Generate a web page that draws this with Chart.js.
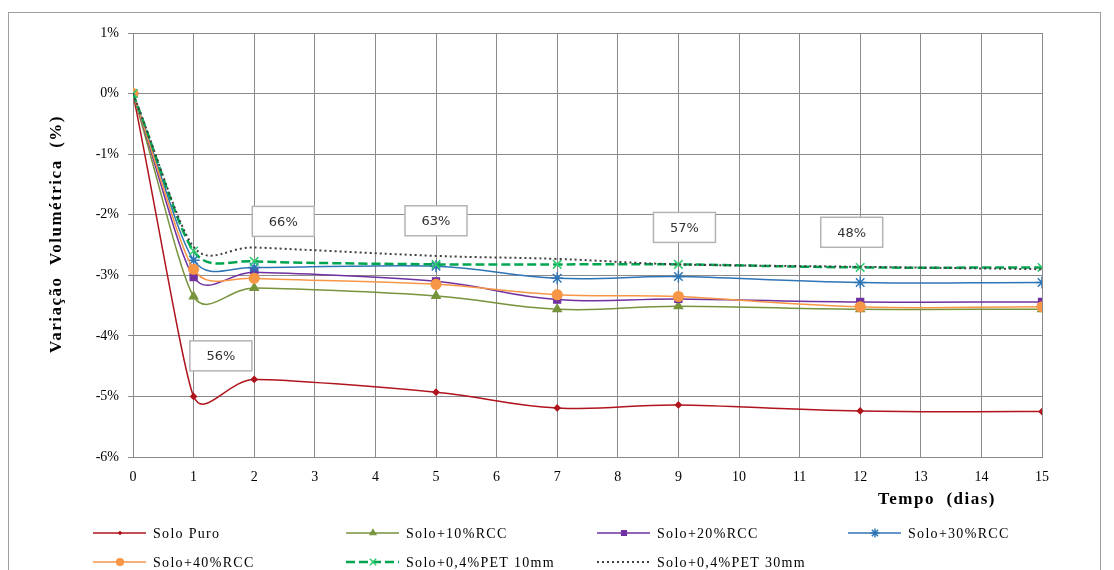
<!DOCTYPE html>
<html>
<head>
<meta charset="utf-8">
<script src="https://cdn.jsdelivr.net/npm/chart.js@4/dist/chart.umd.min.js"></script>
<style>
  html, body { margin: 0; padding: 0; background: #fff; }
  #wrap { width: 1114px; height: 570px; position: relative; }
</style>
</head>
<body>
<div id="wrap"><canvas id="chart" width="1114" height="570"></canvas></div>
<script>
// data (days vs. volumetric variation in %)
const days = [0, 1, 2, 5, 7, 9, 12, 15];
const soloPuro = [0, -5.00, -4.72, -4.93, -5.19, -5.14, -5.24, -5.25];
const rcc10 = [0, -3.35, -3.21, -3.34, -3.56, -3.51, -3.56, -3.56];
const rcc20 = [0, -3.03, -2.95, -3.10, -3.40, -3.39, -3.44, -3.44];
const rcc30 = [0, -2.75, -2.87, -2.85, -3.05, -3.02, -3.12, -3.12];
const rcc40 = [0, -2.90, -3.05, -3.15, -3.32, -3.35, -3.52, -3.52];
const pet10 = [0, -2.60, -2.77, -2.82, -2.82, -2.82, -2.87, -2.87];
const pet30 = [0, -2.53, -2.54, -2.68, -2.73, -2.82, -2.86, -2.90];

const seriesNames = ['Solo Puro', 'Solo+10%RCC', 'Solo+20%RCC', 'Solo+30%RCC',
                     'Solo+40%RCC', 'Solo+0,4%PET 10mm', 'Solo+0,4%PET 30mm'];

// text boxes with reduction percentages
const noteLabels = ['56%', '66%', '63%', '57%', '48%'];
const noteX = [1.45, 2.48, 5.0, 9.1, 11.86];
const noteY = [-4.33, -2.11, -2.1, -2.21, -2.29];

const toPoints = (vals) => vals.map((v, i) => ({ x: days[i], y: v }));

function makeSet(idx, vals, color, style, radius, extra) {
    return Object.assign({
        label: seriesNames[idx],
        data: toPoints(vals),
        borderColor: color,
        backgroundColor: color,
        borderWidth: 1.5,
        pointStyle: style,
        pointRadius: radius,
        pointBorderWidth: 1.2,
        tension: 0.4,
        fill: false,
        order: 10 - idx   // later series on top, like the original
    }, extra || {});
}

const datasets = [
    makeSet(0, soloPuro, '#B0141C', 'rectRot', 3),
    makeSet(1, rcc10, '#77933C', 'triangle', 5),
    makeSet(2, rcc20, '#7030A0', 'rect', 5),
    makeSet(3, rcc30, '#2E75B6', 'star', 6, { pointBorderWidth: 1.5 }),
    makeSet(4, rcc40, '#F79646', 'circle', 5),
    makeSet(5, pet10, '#00A550', 'crossRot', 6,
        { borderWidth: 2.5, borderDash: [9, 4], pointBorderColor: '#2ECC71', pointBorderWidth: 1.5 }),
    makeSet(6, pet30, '#404040', 'circle', 0,
        { borderWidth: 2, borderDash: [2, 3] })
];

// legend row / column layout
const legendCols = [93, 346, 597, 848];
const legendRows = [533, 562];

// Excel-like smoothing: tangent from neighbours, arm length tied to the shorter segment
const smoothPlugin = {
    id: 'excelSmooth',
    beforeDatasetDraw(chart, args) {
        const line = args.meta.dataset;
        const pts = args.meta.data;
        if (!line || pts.length < 2) return;
        line.updateControlPoints(chart.chartArea, 'x');
        const k = 0.42;
        for (let i = 0; i < pts.length; i++) {
            const p = pts[i];
            const prev = pts[i - 1] || p;
            const next = pts[i + 1] || p;
            let dx = next.x - prev.x, dy = next.y - prev.y;
            const len = Math.hypot(dx, dy) || 1;
            dx /= len; dy /= len;
            const dPrev = Math.hypot(p.x - prev.x, p.y - prev.y);
            const dNext = Math.hypot(next.x - p.x, next.y - p.y);
            let arm;
            if (i === 0) arm = k * dNext;
            else if (i === pts.length - 1) arm = k * dPrev;
            else arm = k * Math.min(dPrev, dNext);
            p.cp1x = p.x - dx * arm;
            p.cp1y = p.y - dy * arm;
            p.cp2x = p.x + dx * arm;
            p.cp2y = p.y + dy * arm;
        }
        line._path = undefined;
    }
};

const extrasPlugin = {
    id: 'extras',
    beforeDraw(chart) {
        const ctx = chart.ctx;
        ctx.save();
        ctx.fillStyle = '#fff';
        ctx.fillRect(0, 0, chart.width, chart.height);
        ctx.strokeStyle = '#a0a0a0';
        ctx.lineWidth = 1;
        ctx.strokeRect(8.5, 12.5, 1092, 600);
        ctx.restore();
    },
    afterDraw(chart) {
        const ctx = chart.ctx;
        const xs = chart.scales.x, ys = chart.scales.y;
        ctx.save();

        // note boxes
        ctx.font = '13px "DejaVu Sans", Verdana, sans-serif';
        ctx.textAlign = 'center';
        ctx.textBaseline = 'middle';
        noteLabels.forEach((txt, i) => {
            const cx = xs.getPixelForValue(noteX[i]);
            const cy = ys.getPixelForValue(noteY[i]);
            ctx.fillStyle = '#fff';
            ctx.fillRect(cx - 31, cy - 15, 62, 30);
            ctx.strokeStyle = '#b4b4b4';
            ctx.lineWidth = 1.5;
            ctx.strokeRect(cx - 31, cy - 15, 62, 30);
            ctx.fillStyle = '#333';
            ctx.fillText(txt, cx, cy + 1);
        });

        // axis titles
        ctx.fillStyle = '#000';
        ctx.font = 'bold 17px "Liberation Serif", "Times New Roman", serif';
        ctx.letterSpacing = '1.5px';
        ctx.textAlign = 'center';
        ctx.fillText('Tempo  (dias)', 937, 500);
        ctx.save();
        ctx.translate(57, 234);
        ctx.rotate(-Math.PI / 2);
        ctx.fillText('Variação  Volumétrica  (%)', 0, 0);
        ctx.restore();

        // legend
        ctx.font = '14px "Liberation Serif", "Times New Roman", serif';
        ctx.letterSpacing = '1.3px';
        ctx.textAlign = 'left';
        chart.data.datasets.forEach((ds, i) => {
            const x0 = legendCols[i % 4];
            const y0 = legendRows[Math.floor(i / 4)];
            ctx.save();
            ctx.strokeStyle = ds.borderColor;
            ctx.lineWidth = ds.borderWidth;
            ctx.setLineDash(ds.borderDash || []);
            ctx.beginPath();
            ctx.moveTo(x0, y0);
            ctx.lineTo(x0 + 53, y0);
            ctx.stroke();
            ctx.restore();
            if (ds.pointRadius > 0) {
                ctx.save();
                ctx.setLineDash([]);
                ctx.fillStyle = ds.backgroundColor;
                ctx.strokeStyle = ds.pointBorderColor || ds.borderColor;
                ctx.lineWidth = ds.pointBorderWidth;
                Chart.helpers.drawPoint(ctx, {
                    pointStyle: ds.pointStyle,
                    radius: ds.pointRadius - 1.5,
                    rotation: 0,
                    borderWidth: ds.pointBorderWidth
                }, x0 + 27, y0);
                ctx.restore();
            }
            ctx.fillStyle = '#000';
            ctx.fillText(ds.label, x0 + 60, y0 + 1);
        });
        ctx.restore();
    }
};

const ctx = document.getElementById('chart');
new Chart(ctx, {
    type: 'line',
    data: { datasets: datasets },
    options: {
        responsive: false,
        animation: false,
        layout: { padding: { top: 33, right: 72, bottom: 0, left: 0 } },
        plugins: { legend: { display: false }, tooltip: { enabled: false } },
        scales: {
            x: {
                type: 'linear',
                min: 0,
                max: 15,
                afterFit: (s) => { s.height = 113; },
                ticks: {
                    stepSize: 1,
                    padding: 12,
                    color: '#000',
                    font: { family: '"Liberation Serif", "Times New Roman", serif', size: 14 }
                },
                grid: { color: '#8a8a8a', lineWidth: 1, tickLength: 0 },
                border: { color: '#8a8a8a', width: 1 }
            },
            y: {
                min: -6,
                max: 1,
                afterFit: (s) => { s.width = 133; },
                ticks: {
                    stepSize: 1,
                    padding: 9,
                    color: '#000',
                    font: { family: '"Liberation Serif", "Times New Roman", serif', size: 14 },
                    callback: (v) => v + '%'
                },
                grid: { color: '#8a8a8a', lineWidth: 1, tickLength: 5 },
                border: { color: '#8a8a8a', width: 1 }
            }
        }
    },
    plugins: [smoothPlugin, extrasPlugin]
});
</script>
</body>
</html>
